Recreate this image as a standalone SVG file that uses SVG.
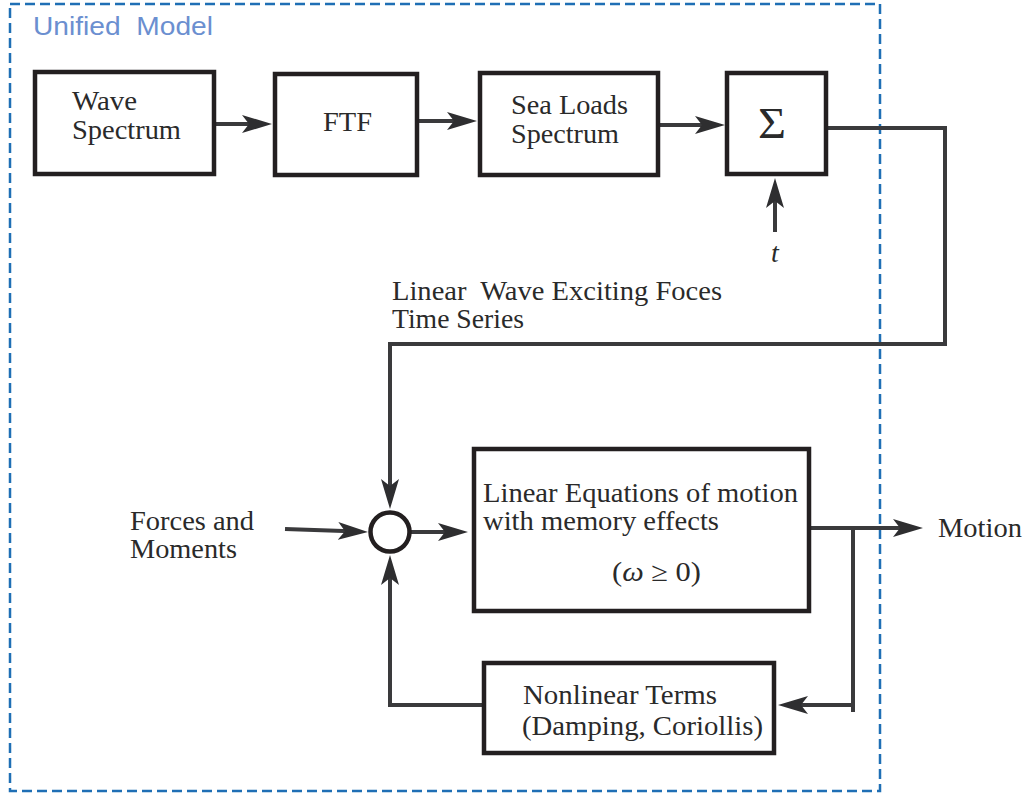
<svg xmlns="http://www.w3.org/2000/svg" width="1031" height="795" viewBox="0 0 1031 795">
<style>
.box{fill:#fff;stroke:#231f20;stroke-width:4.5}
.ln{fill:none;stroke:#3a3a3c;stroke-width:4;stroke-linecap:butt;stroke-linejoin:miter}
.t{font-size:27px;fill:#2a2a2a;white-space:pre}
.frame{fill:none;stroke:#1f6fb5;stroke-width:2.5;stroke-dasharray:10 5}
.title{font-size:26px;fill:#6b8fd0;white-space:pre}
</style>
<defs>
<marker id="ah" markerUnits="userSpaceOnUse" markerWidth="40" markerHeight="24" viewBox="0 0 40 24" refX="20" refY="12" orient="auto">
<path d="M30,12 L0,3 L7,12 L0,21 Z" fill="#2e2e30"/>
</marker>
</defs>
<rect class="frame" x="10" y="4" width="870" height="787"/>
<text class="title" font-family="Liberation Sans, Arial, Helvetica, sans-serif" xml:space="preserve" x="33" y="35" textLength="180" lengthAdjust="spacingAndGlyphs">Unified  Model</text>

<g id="connectors">
<line class="ln" x1="216" y1="124" x2="262" y2="124" marker-end="url(#ah)"/>
<line class="ln" x1="419" y1="121" x2="467" y2="121" marker-end="url(#ah)"/>
<line class="ln" x1="660" y1="125" x2="715" y2="125" marker-end="url(#ah)"/>
<line class="ln" x1="775" y1="232" x2="775" y2="188" marker-end="url(#ah)"/>
<polyline class="ln" points="828,128 945,128 945,344 390,344 390,499" marker-end="url(#ah)"/>
<line class="ln" x1="285" y1="529" x2="358" y2="531.6" marker-end="url(#ah)"/>
<line class="ln" x1="410" y1="532" x2="458" y2="532" marker-end="url(#ah)"/>
<polyline class="ln" points="482,705 390,705 390,565" marker-end="url(#ah)"/>
<line class="ln" x1="811" y1="528" x2="913" y2="528" marker-end="url(#ah)"/>
<polyline class="ln" points="853,528 853,712"/>
<line class="ln" x1="853" y1="705" x2="788" y2="705" marker-end="url(#ah)"/>
</g>

<g font-family="Liberation Serif, Times New Roman, Times, serif">
<g id="wave-spectrum">
<rect class="box" x="35" y="72" width="179" height="102"/>
<text class="t" x="72" y="110" textLength="65" lengthAdjust="spacingAndGlyphs">Wave</text>
<text class="t" x="72" y="139" textLength="109" lengthAdjust="spacingAndGlyphs">Spectrum</text>
</g>

<g id="ftf">
<rect class="box" x="275" y="74" width="142" height="101"/>
<text class="t" x="323" y="131" textLength="49" lengthAdjust="spacingAndGlyphs">FTF</text>
</g>

<g id="sea-loads">
<rect class="box" x="480" y="73" width="178" height="102"/>
<text class="t" x="511" y="114" textLength="117" lengthAdjust="spacingAndGlyphs">Sea Loads</text>
<text class="t" x="511" y="143" textLength="108" lengthAdjust="spacingAndGlyphs">Spectrum</text>
</g>

<g id="sum">
<rect class="box" x="727" y="73" width="99" height="101"/>
<text class="t" x="758" y="138" style="font-size:44px" textLength="28" lengthAdjust="spacingAndGlyphs">Σ</text>
</g>

<g id="t-input">
<text class="t" x="775" y="262" text-anchor="middle" style="font-style:italic;font-size:28px">t</text>
</g>

<g id="wave-label">
<text class="t" xml:space="preserve" x="392" y="300" textLength="330" lengthAdjust="spacingAndGlyphs">Linear  Wave Exciting Foces</text>
<text class="t" x="392" y="328" textLength="132" lengthAdjust="spacingAndGlyphs">Time Series</text>
</g>

<g id="forces">
<text class="t" x="130" y="530" textLength="124" lengthAdjust="spacingAndGlyphs">Forces and</text>
<text class="t" x="130" y="558" textLength="107" lengthAdjust="spacingAndGlyphs">Moments</text>
</g>

<g id="summing-junction">
<circle cx="390" cy="532" r="19.5" fill="#fff" stroke="#231f20" stroke-width="4.5"/>
</g>

<g id="linear-eq">
<rect class="box" x="474" y="449" width="335" height="162"/>
<text class="t" x="483" y="502" textLength="315" lengthAdjust="spacingAndGlyphs">Linear Equations of motion</text>
<text class="t" x="483" y="530" textLength="236" lengthAdjust="spacingAndGlyphs">with memory effects</text>
<text class="t" x="612" y="581" textLength="89" lengthAdjust="spacingAndGlyphs">(<tspan style="font-style:italic">ω</tspan> ≥ 0)</text>
</g>

<g id="motion">
<text class="t" x="938" y="537" textLength="84" lengthAdjust="spacingAndGlyphs">Motion</text>
</g>

<g id="nonlinear">
<rect class="box" x="484" y="663" width="290" height="90"/>
<text class="t" x="523" y="704" textLength="194" lengthAdjust="spacingAndGlyphs">Nonlinear Terms</text>
<text class="t" x="522" y="735" textLength="241" lengthAdjust="spacingAndGlyphs">(Damping, Coriollis)</text>
</g>
</g>
</svg>
